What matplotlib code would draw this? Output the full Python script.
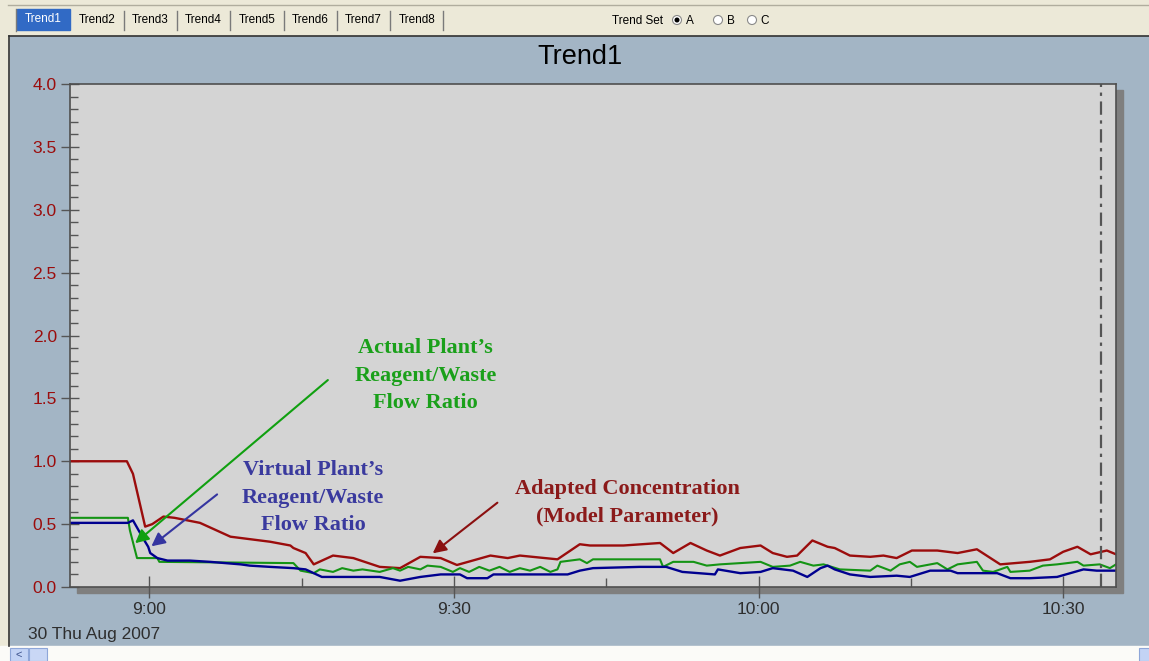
import matplotlib.pyplot as plt
from matplotlib.patches import Rectangle, Circle
from matplotlib.ticker import MultipleLocator, FixedLocator

W, H = 1149, 661

# time axis: minutes after 9:00 on 30 Thu Aug 2007
x_range = (-7.8, 95.2)
y_range = (0.0, 4.0)
tick_minutes = [0, 30, 60, 90]
tick_labels = ["9:00", "9:30", "10:00", "10:30"]
minor_minutes = [15, 45, 75]
cursor_minute = 93.7
date_label = "30 Thu Aug 2007"

tabs = ["Trend1", "Trend2", "Trend3", "Trend4", "Trend5", "Trend6", "Trend7", "Trend8"]
trend_sets = ["A", "B", "C"]

# adapted concentration (model parameter)
conc_t = [-7.8, -2.2, -1.6, -0.4, 0.3, 1.4, 2.5, 5.0, 8.0, 11.9, 13.9, 14.2, 15.4,
          16.2, 18.1, 20.1, 22.7, 24.7, 26.7, 28.7, 30.3, 33.6, 35.3, 36.5, 40.2,
          42.4, 43.4, 46.7, 50.3, 51.6, 53.3, 54.9, 56.2, 58.2, 60.2, 61.4, 62.8,
          63.8, 65.3, 66.8, 67.5, 69.0, 71.0, 72.3, 73.6, 75.1, 77.6, 79.6, 81.5,
          83.8, 86.7, 88.7, 90.0, 91.4, 92.7, 94.3, 95.2]
conc_v = [1.0, 1.0, 0.9, 0.48, 0.50, 0.56, 0.55, 0.51, 0.40, 0.36, 0.33, 0.31, 0.27,
          0.18, 0.25, 0.23, 0.16, 0.15, 0.24, 0.23, 0.175, 0.25, 0.23, 0.25, 0.22,
          0.34, 0.33, 0.33, 0.35, 0.27, 0.35, 0.29, 0.25, 0.31, 0.33, 0.27, 0.24,
          0.25, 0.37, 0.32, 0.31, 0.25, 0.24, 0.25, 0.23, 0.29, 0.29, 0.27, 0.30,
          0.18, 0.20, 0.22, 0.28, 0.32, 0.26, 0.29, 0.26]

# actual plant's reagent/waste flow ratio
actual_t = [-7.8, -2.1, -1.9, -1.2, 0.8, 1.0, 14.2, 14.9, 16.2, 16.8, 18.1, 19.0,
            20.1, 21.0, 22.7, 24.0, 24.7, 25.5, 26.7, 27.4, 28.7, 29.9, 30.6, 31.5,
            32.5, 33.5, 34.5, 35.5, 36.5, 37.5, 38.5, 39.5, 40.2, 40.5, 42.4, 43.1,
            43.7, 50.3, 50.6, 51.6, 53.6, 54.9, 56.2, 58.2, 60.2, 61.4, 63.1, 64.1,
            65.4, 66.4, 68.0, 71.0, 71.7, 73.0, 73.9, 74.9, 75.6, 77.6, 78.6, 79.6,
            81.5, 82.1, 83.1, 84.5, 84.8, 86.7, 88.0, 89.4, 91.4, 92.0, 93.6, 94.6,
            95.2]
actual_v = [0.55, 0.55, 0.45, 0.23, 0.23, 0.20, 0.19, 0.13, 0.11, 0.14, 0.12, 0.15,
            0.13, 0.14, 0.12, 0.15, 0.13, 0.16, 0.14, 0.17, 0.16, 0.12, 0.15, 0.12,
            0.16, 0.13, 0.16, 0.12, 0.15, 0.13, 0.16, 0.12, 0.14, 0.20, 0.22, 0.19,
            0.22, 0.22, 0.16, 0.20, 0.20, 0.17, 0.18, 0.19, 0.20, 0.16, 0.17, 0.20,
            0.17, 0.18, 0.14, 0.13, 0.17, 0.13, 0.18, 0.20, 0.16, 0.19, 0.14, 0.18,
            0.20, 0.13, 0.12, 0.16, 0.12, 0.13, 0.17, 0.18, 0.20, 0.17, 0.18, 0.15,
            0.18]

# virtual plant's reagent/waste flow ratio
virtual_t = [-7.8, -2.1, -1.6, -0.9, -0.4, -0.1, 0.1, 0.8, 1.8, 4.0, 6.0, 9.0, 9.9,
             11.9, 14.2, 15.4, 16.2, 17.0, 18.1, 22.7, 24.7, 26.7, 28.7, 30.6, 31.3,
             33.3, 33.9, 38.5, 41.2, 42.4, 43.7, 48.3, 50.9, 52.5, 55.7, 56.0, 58.2,
             60.2, 61.4, 63.4, 64.8, 66.1, 66.8, 67.5, 69.0, 71.0, 73.6, 74.9, 76.9,
             78.9, 79.6, 83.5, 84.8, 86.7, 89.4, 90.7, 92.0, 93.3, 95.2]
virtual_v = [0.51, 0.51, 0.53, 0.43, 0.36, 0.32, 0.27, 0.23, 0.21, 0.21, 0.20, 0.18,
             0.17, 0.16, 0.15, 0.14, 0.11, 0.08, 0.08, 0.08, 0.05, 0.08, 0.10, 0.10,
             0.07, 0.07, 0.10, 0.10, 0.10, 0.13, 0.15, 0.16, 0.16, 0.12, 0.10, 0.14,
             0.11, 0.12, 0.15, 0.13, 0.08, 0.15, 0.17, 0.14, 0.10, 0.08, 0.09, 0.08,
             0.13, 0.13, 0.11, 0.11, 0.07, 0.07, 0.08, 0.11, 0.14, 0.13, 0.13]

RED = "#9b0c0c"
GREEN = "#149414"
BLUE = "#00008f"
PANEL = "#a3b5c5"
CREAM = "#ece9d8"
SANS = "Liberation Sans"
SERIF = "Liberation Serif"

fig = plt.figure(figsize=(W / 100, H / 100), dpi=100)

# window chrome, drawn in pixel units
bg = fig.add_axes([0, 0, 1, 1], zorder=0)
bg.set_xlim(0, W)
bg.set_ylim(H, 0)
bg.axis("off")
bg.add_patch(Rectangle((0, 0), W, H, color=CREAM))
bg.add_patch(Rectangle((10, 36), W - 10, 610, color=PANEL))
bg.plot([9, 9], [36, 646], color="#333333", lw=1.2)
bg.plot([9, W], [36, 36], color="#333333", lw=1.2)
bg.plot([8, W], [5, 5], color="#b0ad9e", lw=1)
bg.add_patch(Rectangle((0, 646), W, 15, color="#fbfbf8"))
bg.add_patch(Rectangle((10, 648), 18, 13, color="#c3d3f5", ec="#8ea6d8", lw=0.8))
bg.text(19, 655, "<", ha="center", va="center", fontsize=8, color="#3a4f8a", family=SANS)
bg.add_patch(Rectangle((29, 648), 18, 13, color="#c9d7f5", ec="#8ea6d8", lw=0.8))
bg.add_patch(Rectangle((1139, 648), 12, 13, color="#c3d3f5", ec="#8ea6d8", lw=0.8))

# tabs
tab_w = 53.3
for i, name in enumerate(tabs):
    x0 = 17 + i * tab_w
    if i == 0:
        bg.add_patch(Rectangle((x0, 9), tab_w, 21, color="#316ac5"))
        bg.text(x0 + tab_w / 2, 19.5, name, ha="center", va="center",
                fontsize=8.5, color="white", family=SANS)
    else:
        bg.plot([x0 + tab_w, x0 + tab_w], [11, 30], color="#7a7a7a", lw=1)
        bg.text(x0 + tab_w / 2, 20, name, ha="center", va="center",
                fontsize=8.5, color="black", family=SANS)
bg.plot([16, 16], [9, 31], color="#7a7a7a", lw=1)

bg.text(638, 20.5, "Trend Set", ha="center", va="center", fontsize=8.5, family=SANS)
for i, (cx, s) in enumerate(zip([677, 718, 752], trend_sets)):
    bg.add_patch(Circle((cx, 20), 4.5, fc="white", ec="#8a8a8a", lw=0.8))
    if i == 0:
        bg.add_patch(Circle((cx, 20), 1.8, color="black"))
    bg.text(cx + 13, 21, s, ha="center", va="center", fontsize=8.5, family=SANS)

bg.text(580, 57, "Trend1", ha="center", va="center", fontsize=19.5, family=SANS)
bg.text(28, 634, date_label, ha="left", va="center", fontsize=12.5,
        color="#2e2e2e", family=SANS)

# drop shadow of plot area
bg.add_patch(Rectangle((77, 90), 1046, 503, color="#7f7f7f"))

# plot area
ax = fig.add_axes([70 / W, 1 - 587 / H, 1046 / W, 503 / H], zorder=1)
ax.set_facecolor("#d4d4d4")
ax.set_xlim(*x_range)
ax.set_ylim(*y_range)
for s in ax.spines.values():
    s.set_color("#4f4f4f")
    s.set_linewidth(1.2)

ax.plot(conc_t, conc_v, color=RED, lw=1.7)
ax.plot(actual_t, actual_v, color=GREEN, lw=1.5)
ax.plot(virtual_t, virtual_v, color=BLUE, lw=1.7)
ax.axvline(cursor_minute, color="#555555", lw=1.6, dashes=(6, 2.5, 1.5, 2.5))

ax.xaxis.set_major_locator(FixedLocator(tick_minutes))
ax.set_xticklabels(tick_labels)
ax.xaxis.set_minor_locator(FixedLocator(minor_minutes))
ax.yaxis.set_major_locator(MultipleLocator(0.5))
ax.yaxis.set_minor_locator(MultipleLocator(0.1))
ax.yaxis.set_major_formatter(plt.FormatStrFormatter("%.1f"))
ax.tick_params(axis="x", which="major", direction="inout", length=16, width=1,
               color="#555555", pad=3, labelsize=12.5, labelcolor="#2e2e2e")
ax.tick_params(axis="x", which="minor", direction="in", length=6.5, width=1,
               color="#555555")
ax.tick_params(axis="y", which="major", direction="inout", length=13, width=1,
               color="#555555", pad=3, labelsize=12.5, labelcolor=RED)
ax.tick_params(axis="y", which="minor", direction="in", length=6, width=1,
               color="#555555")
for lab in ax.get_xticklabels() + ax.get_yticklabels():
    lab.set_family(SANS)

# annotations
ax.annotate("", xy=(-1.6, 0.334), xytext=(17.8, 1.66),
            arrowprops=dict(arrowstyle="-|>", color="#10a010", lw=1.5, mutation_scale=20))
ax.text(27.2, 1.678, "Actual Plant\u2019s\nReagent/Waste\nFlow Ratio", ha="center",
        va="center", fontsize=16, fontweight="bold", family=SERIF, color="#1aa01a",
        linespacing=1.5)
ax.annotate("", xy=(0.0, 0.31), xytext=(6.9, 0.75),
            arrowprops=dict(arrowstyle="-|>", color="#3535a0", lw=1.5, mutation_scale=20))
ax.text(16.15, 0.708, "Virtual Plant\u2019s\nReagent/Waste\nFlow Ratio", ha="center",
        va="center", fontsize=16, fontweight="bold", family=SERIF, color="#3a3a9e",
        linespacing=1.5)
ax.annotate("", xy=(27.7, 0.254), xytext=(34.5, 0.684),
            arrowprops=dict(arrowstyle="-|>", color="#8b1010", lw=1.5, mutation_scale=20))
ax.text(47.1, 0.668, "Adapted Concentration\n(Model Parameter)", ha="center",
        va="center", fontsize=16, fontweight="bold", family=SERIF, color="#8b1a1a",
        linespacing=1.5)

fig.savefig("out.png", dpi=100)
